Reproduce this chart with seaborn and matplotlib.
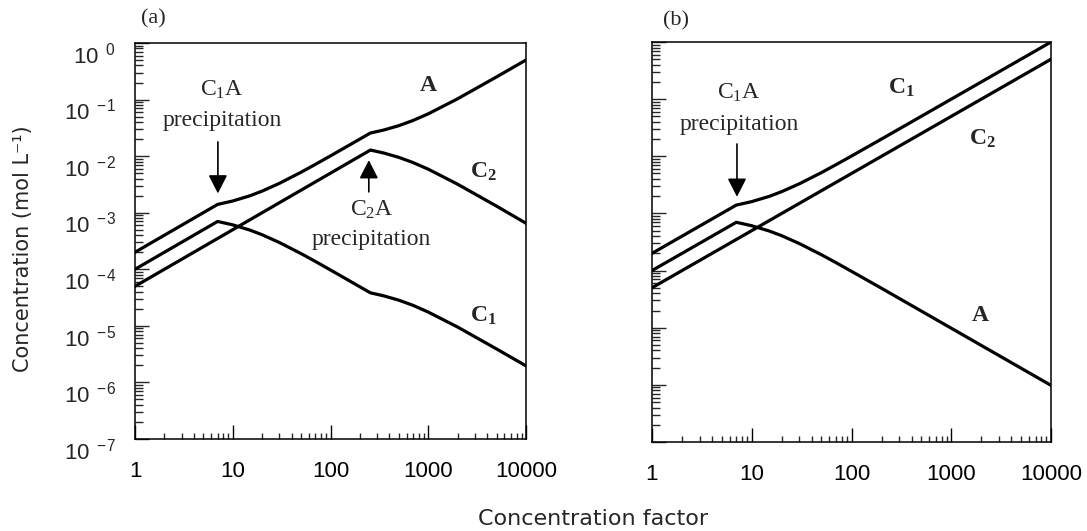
import numpy as np
import pandas as pd
import matplotlib
matplotlib.use("Agg")
import matplotlib.pyplot as plt
import seaborn as sns
from matplotlib.ticker import LogLocator, FixedLocator, FixedFormatter, NullFormatter
from matplotlib.transforms import ScaledTranslation

# ---------------- data ----------------
cf_a = [1, 2, 4, 7, 10, 15, 20, 30, 50, 70, 100, 150, 256, 350, 500, 700, 1000, 2000, 5000, 10000]
a_A = [2e-4, 4e-4, 8e-4, 1.4e-3, 1.61e-3, 1.99e-3, 2.41e-3, 3.30e-3, 5.19e-3, 7.14e-3,
       1.01e-2, 1.507e-2, 2.56e-2, 2.89e-2, 3.45e-2, 4.27e-2, 5.59e-2, 0.1032, 0.2513, 0.50]
a_C1 = [1e-4, 2e-4, 4e-4, 7e-4, 6.09e-4, 4.92e-4, 4.07e-4, 2.97e-4, 1.89e-4, 1.375e-4,
        9.7e-5, 6.5e-5, 3.83e-5, 3.39e-5, 2.84e-5, 2.30e-5, 1.75e-5, 9.5e-6, 3.9e-6, 1.96e-6]
a_C2 = [5e-5, 1e-4, 2e-4, 3.5e-4, 5e-4, 7.5e-4, 1e-3, 1.5e-3, 2.5e-3, 3.5e-3,
        5e-3, 7.5e-3, 1.28e-2, 1.135e-2, 9.5e-3, 7.68e-3, 5.87e-3, 3.18e-3, 1.305e-3, 6.5e-4]

cf_b = [1, 2, 4, 7, 10, 15, 20, 30, 50, 70, 100, 200, 500, 1000, 10000]
b_C1 = [2e-4, 4e-4, 8e-4, 1.4e-3, 1.61e-3, 1.99e-3, 2.41e-3, 3.30e-3, 5.19e-3, 7.14e-3,
        1.01e-2, 2.005e-2, 5.0e-2, 0.1, 1.0]
b_A = [1e-4, 2e-4, 4e-4, 7e-4, 6.09e-4, 4.92e-4, 4.07e-4, 2.97e-4, 1.89e-4, 1.375e-4,
       9.7e-5, 4.9e-5, 1.96e-5, 9.8e-6, 9.8e-7]
b_C2 = [5e-5, 1e-4, 2e-4, 3.5e-4, 5e-4, 7.5e-4, 1e-3, 1.5e-3, 2.5e-3, 3.5e-3,
        5e-3, 1e-2, 2.5e-2, 5e-2, 0.5]

xticks = [1, 10, 100, 1000, 10000]
xticklabels = ["1", "10", "100", "1000", "10000"]
yticks = [1e0, 1e-1, 1e-2, 1e-3, 1e-4, 1e-5, 1e-6, 1e-7]
yexponents = ["0", "-1", "-2", "-3", "-4", "-5", "-6", "-7"]
yticklabels = [r"$\mathsf{10\ \,^{%s}}$" % e for e in yexponents]

def long_df(cf, series):
    frames = []
    for name, vals in series.items():
        frames.append(pd.DataFrame({"cf": cf, "conc": vals, "species": name}))
    return pd.concat(frames, ignore_index=True)

df_a = long_df(cf_a, {"A": a_A, "C1": a_C1, "C2": a_C2})
df_b = long_df(cf_b, {"C1": b_C1, "A": b_A, "C2": b_C2})

# ---------------- style ----------------
sns.set_theme(style="white")
plt.rcParams["font.family"] = ["Liberation Sans", "DejaVu Sans"]
plt.rcParams["mathtext.fontset"] = "custom"
plt.rcParams["mathtext.rm"] = "Liberation Serif"
plt.rcParams["mathtext.it"] = "Liberation Serif:italic"
plt.rcParams["mathtext.bf"] = "Liberation Serif:bold"
plt.rcParams["mathtext.sf"] = "Liberation Sans"

SERIF = ["Liberation Serif", "DejaVu Serif"]
LABEL_FONT = ["DejaVu Sans"]

fig = plt.figure(figsize=(10.87, 5.31), dpi=100)
ax_a = fig.add_axes([0.1242, 0.1733, 0.3597, 0.7458])
ax_b = fig.add_axes([0.5998, 0.1676, 0.3671, 0.7533])

for ax, df in [(ax_a, df_a), (ax_b, df_b)]:
    sns.lineplot(data=df, x="cf", y="conc", units="species", estimator=None, sort=False,
                 color="black", linewidth=2.3, ax=ax, legend=False)
    ax.set_xscale("log")
    ax.set_yscale("log")
    ax.set_xlim(1, 10000)
    ax.set_ylim(1e-7, 1)
    ax.set_xlabel("")
    ax.set_ylabel("")
    for s in ax.spines.values():
        s.set_visible(True)
        s.set_color("black")
        s.set_linewidth(1.1)
    ax.xaxis.set_major_locator(FixedLocator(xticks))
    ax.xaxis.set_major_formatter(FixedFormatter(xticklabels))
    ax.xaxis.set_minor_locator(LogLocator(base=10, subs=np.arange(2, 10), numticks=20))
    ax.xaxis.set_minor_formatter(NullFormatter())
    ax.yaxis.set_major_locator(FixedLocator(yticks))
    ax.yaxis.set_minor_locator(LogLocator(base=10, subs=np.arange(2, 10), numticks=20))
    ax.yaxis.set_minor_formatter(NullFormatter())
    ax.tick_params(axis="x", which="major", direction="in", length=10, width=1.0,
                   pad=16, labelsize=16, bottom=True, top=False, colors="black")
    ax.tick_params(axis="x", which="minor", direction="in", length=4, width=1.0,
                   bottom=True, top=False)
    ax.tick_params(axis="y", which="major", direction="in", length=10, width=1.0,
                   pad=13.5, labelsize=16, left=True, right=False)
    ax.tick_params(axis="y", which="minor", direction="in", length=5.5, width=1.0,
                   left=True, right=False)

ax_a.yaxis.set_major_formatter(FixedFormatter(yticklabels))
ax_b.yaxis.set_major_formatter(NullFormatter())
shift = ScaledTranslation(0, -7 / 72, fig.dpi_scale_trans)
for t in ax_a.yaxis.get_major_ticks():
    t.label1.set_transform(t.label1.get_transform() + shift)

arrowprops = dict(arrowstyle="-|>,head_length=0.45,head_width=0.23", mutation_scale=25,
                  color="black", lw=1.2, shrinkA=0, shrinkB=0)

def label(ax, x, y, s, size=17, weight="normal"):
    ax.text(x, y, s, transform=ax.transAxes, ha="center", va="center",
            family=SERIF, fontsize=size, fontweight=weight)

# panel (a) annotations
label(ax_a, 0.047, 1.061, "(a)", size=16)
label(ax_a, 0.222, 0.882, r"C$_1$A")
label(ax_a, 0.222, 0.805, "precipitation")
ax_a.annotate("", xy=(0.212, 0.620), xytext=(0.212, 0.750), xycoords="axes fraction",
              textcoords="axes fraction", arrowprops=arrowprops)
ax_a.annotate("", xy=(0.598, 0.704), xytext=(0.598, 0.624), xycoords="axes fraction",
              textcoords="axes fraction", arrowprops=arrowprops)
label(ax_a, 0.605, 0.578, r"C$_2$A")
label(ax_a, 0.605, 0.503, "precipitation")
label(ax_a, 0.751, 0.893, r"$\mathbf{A}$", size=17)
label(ax_a, 0.891, 0.675, r"$\mathbf{C_2}$", size=17)
label(ax_a, 0.892, 0.312, r"$\mathbf{C_1}$", size=17)

# panel (b) annotations
label(ax_b, 0.059, 1.053, "(b)", size=16)
label(ax_b, 0.217, 0.874, r"C$_1$A")
label(ax_b, 0.219, 0.795, "precipitation")
ax_b.annotate("", xy=(0.213, 0.613), xytext=(0.213, 0.745), xycoords="axes fraction",
              textcoords="axes fraction", arrowprops=arrowprops)
label(ax_b, 0.624, 0.886, r"$\mathbf{C_1}$", size=17)
label(ax_b, 0.829, 0.757, r"$\mathbf{C_2}$", size=17)
label(ax_b, 0.822, 0.317, r"$\mathbf{A}$", size=17)

fig.text(0.5455, 0.0113, "Concentration factor", ha="center", va="baseline",
         fontsize=16, family=LABEL_FONT)
fig.text(0.021, 0.531, "Concentration (mol L\u207b\u00b9)", ha="center", va="center",
         rotation=90, fontsize=15, family=LABEL_FONT)

fig.savefig("out.png", dpi=100)
